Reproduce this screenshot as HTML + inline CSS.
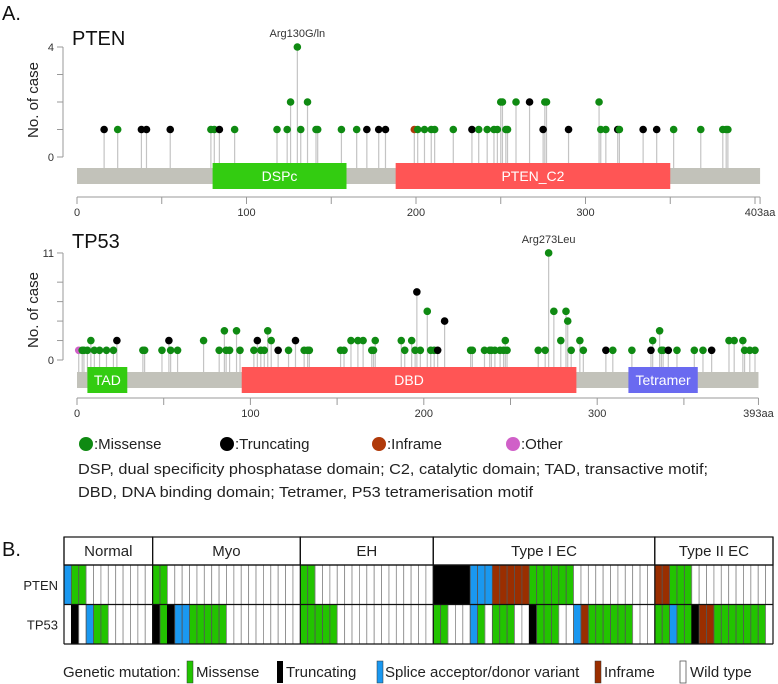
<!DOCTYPE html>
<html><head><meta charset="utf-8">
<style>
html,body{margin:0;padding:0;background:#fff;}
svg{display:block;font-family:"Liberation Sans",Arial,sans-serif;}
</style></head>
<body>
<svg id="fig" width="778" height="684" viewBox="0 0 778 684" xmlns="http://www.w3.org/2000/svg">
  <text x="2" y="20" font-size="20" fill="#111">A.</text>
  <text x="72" y="45" font-size="20" fill="#111">PTEN</text>
  <text x="72" y="248" font-size="20" fill="#111">TP53</text>
  <text transform="translate(38,100) rotate(-90)" text-anchor="middle" font-size="15" fill="#222">No. of case</text>
  <text transform="translate(38,310) rotate(-90)" text-anchor="middle" font-size="15" fill="#222">No. of case</text>
  <g id="pten"></g>
  <g id="tp53"></g>

  <g>
    <circle cx="86" cy="444" r="7" fill="#0f8a12"/>
    <text x="94" y="449" font-size="15" fill="#222">:Missense</text>
    <circle cx="227" cy="444" r="7" fill="#000"/>
    <text x="235" y="449" font-size="15" fill="#222">:Truncating</text>
    <circle cx="379" cy="444" r="7" fill="#b03a0a"/>
    <text x="387" y="449" font-size="15" fill="#222">:Inframe</text>
    <circle cx="513" cy="444" r="7" fill="#d060c8"/>
    <text x="521" y="449" font-size="15" fill="#222">:Other</text>
  </g>
  <text x="78" y="474" font-size="15" fill="#222" textLength="630" lengthAdjust="spacingAndGlyphs">DSP, dual specificity phosphatase domain; C2, catalytic domain; TAD, transactive motif;</text>
  <text x="78" y="497" font-size="15" fill="#222" textLength="455" lengthAdjust="spacingAndGlyphs">DBD, DNA binding domain; Tetramer, P53 tetramerisation motif</text>

  <text x="2" y="556" font-size="20" fill="#111">B.</text>
  <g id="heat"></g>

  <g>
    <text x="63" y="677" font-size="15" fill="#222">Genetic mutation:</text>
    <rect x="187" y="661" width="6" height="22" fill="#22c400" stroke="#333" stroke-width="0.5"/>
    <text x="196" y="677" font-size="15" fill="#222">Missense</text>
    <rect x="277" y="661" width="6" height="22" fill="#000"/>
    <text x="286" y="677" font-size="15" fill="#222">Truncating</text>
    <rect x="377" y="661" width="6" height="22" fill="#1a98f0" stroke="#333" stroke-width="0.5"/>
    <text x="385" y="677" font-size="15" fill="#222">Splice acceptor/donor variant</text>
    <rect x="595" y="661" width="6" height="22" fill="#9a2e00" stroke="#333" stroke-width="0.5"/>
    <text x="604" y="677" font-size="15" fill="#222">Inframe</text>
    <rect x="680" y="661" width="6" height="22" fill="#fff" stroke="#555" stroke-width="0.8"/>
    <text x="690" y="677" font-size="15" fill="#222">Wild type</text>
  </g>
</svg>
<script>
// ---------- PTEN data ----------
const ptenPos = [16,24,38,41,55,79,81,84,93,118,124,126,130,132,136,141,142,156,165,171,178,182,199,201,205,209,211,222,233,237,242,246,248,250,251,253,254,259,267,275,276,277,290,308,309,312,319,320,334,342,352,368,381,383,384];
const ptenCount = [1,1,1,1,1,1,1,1,1,1,1,2,4,1,2,1,1,1,1,1,1,1,1,1,1,1,1,1,1,1,1,1,1,2,2,1,1,2,2,1,2,2,1,2,1,1,1,1,1,1,1,1,1,1,1];
const ptenType = ["k","g","k","k","k","g","g","k","g","g","g","g","g","g","g","g","g","g","g","k","k","k","r","g","g","g","g","g","k","g","g","g","g","g","g","g","g","g","k","k","g","g","k","g","g","g","k","g","k","k","g","g","g","g","g"];
const ptenDomains = ["DSPc","PTEN_C2"];
const ptenDomStart = [80,188];
const ptenDomEnd = [159,350];
const ptenTicks = [0,100,200,300];
const ptenLen = 403;
const ptenYTicks = [0,1,2,3,4];
const ptenYLabels = ["0","","","","4"];

// ---------- TP53 data ----------
const tp53Pos = [1,3,4,6,8,10,13,17,21,23,38,39,49,53,54,58,73,82,85,86,88,92,94,102,104,106,108,110,112,116,122,126,131,133,134,152,154,158,162,165,170,171,172,187,189,193,195,196,198,202,204,206,208,212,227,228,235,238,239,241,244,246,247,248,266,270,272,275,279,282,283,285,290,292,305,309,320,331,332,336,337,338,341,346,356,361,366,376,379,384,385,388,391];
const tp53Count = [1,1,1,1,2,1,1,1,1,2,1,1,1,2,1,1,2,1,3,1,1,3,1,1,2,1,1,3,2,1,1,2,1,1,1,1,1,2,2,2,1,1,2,2,1,2,1,7,1,5,1,1,1,4,1,1,1,1,1,1,1,1,2,1,1,1,11,5,2,5,4,1,2,1,1,1,1,1,2,3,1,1,1,1,1,1,1,2,2,2,1,1,1];
const tp53Type = ["o","g","g","g","g","g","g","g","g","k","g","g","g","k","g","g","g","g","g","g","g","g","g","g","k","g","g","g","g","k","g","k","g","g","g","g","g","g","g","g","g","g","g","g","g","g","g","k","g","g","g","g","k","k","g","g","g","g","g","g","g","g","g","g","g","g","g","g","g","g","g","g","g","g","k","g","g","k","g","g","g","g","k","g","g","g","k","g","g","g","g","g","g"];
const tp53Domains = ["TAD","DBD","Tetramer"];
const tp53DomStart = [6,95,318];
const tp53DomEnd = [29,288,358];
const tp53Ticks = [0,100,200,300];
const tp53Len = 393;
const tp53YTicks = [0,2,4,6,8,11];
const tp53YLabels = ["0","","","","","11"];

// ---------- heatmap data ----------
const groups = ["Normal","Myo","EH","Type I EC","Type II EC"];
const groupSizes = [12,20,18,30,16];
const rowNames = ["PTEN","TP53"];
const ptenRow = "bggwwwwwwwww"+"ggwwwwwwwwwwwwwwwwww"+"ggwwwwwwwwwwwwwwww"+"kkkkkbbbrrrrrggggggwwwwwwwwwww"+"rrgggwwwwwwwwwww";
const tp53Row = "wkwbggwwwwww"+"kgkbbgggggwwwwwwwwww"+"gggggwwwwwwwwwwwww"+"ggwwwbgwgggwwkgggwwbrggggggwww"+"ggbggkrrgggggggw";

const NS = "http://www.w3.org/2000/svg";
const dotColor = {g:"#0f8a12",k:"#000000",r:"#b03a0a",o:"#d060c8"};
const domColor = {DSPc:"#33cc11",PTEN_C2:"#ff5555",TAD:"#33cc11",DBD:"#ff5555",Tetramer:"#6a6af0"};
const cellColor = {g:"#22c400",k:"#000000",b:"#1a98f0",r:"#9a2e00",w:"#ffffff"};
const cellStroke = {g:"#555",k:"#000",b:"#555",r:"#555",w:"#888"};

function mk(tag, attrs, parent){
  const e = document.createElementNS(NS, tag);
  for (const k in attrs) e.setAttribute(k, attrs[k]);
  parent.appendChild(e);
  return e;
}

function drawLollipop(g, cfg){
  const xs = aa => 77 + aa * cfg.pxPerAa;
  const ys = c => cfg.y0 - c * cfg.pxPerCase;
  const yl = mk("line",{x1:63,x2:63,y1:ys(cfg.yTicks[cfg.yTicks.length-1]),y2:ys(0),stroke:"#999","stroke-width":1},g);
  
  
  cfg.yTicks.forEach((t,i)=>{
    const tk = mk("line",{x1:57,x2:63,y1:ys(t),y2:ys(t),stroke:"#999","stroke-width":1},g);
    
    
    if (cfg.yLabels[i]) {
      const tl = mk("text",{x:54,y:ys(t)+4,"font-size":11,"text-anchor":"end",fill:"#333"},g);
      tl.textContent = cfg.yLabels[i];
      
      
    }
  });
  cfg.pos.forEach((p,i)=>{
    const st = mk("line",{x1:xs(p),x2:xs(p),y1:ys(cfg.count[i]),y2:cfg.barTop,stroke:"#c4c4c4","stroke-width":1.2},g);
    
    
  });
  const bar = mk("rect",{x:77,y:cfg.barTop,width:xs(cfg.len)-77,height:16,fill:"#c2c2ba"},g);
  
  
  cfg.domains.forEach((d,i)=>{
    const x1 = xs(cfg.domStart[i]), x2 = xs(cfg.domEnd[i]);
    const r = mk("rect",{x:x1,y:cfg.barTop-5,width:x2-x1,height:26,fill:domColor[d]},g);
    
    
    const t = mk("text",{x:(x1+x2)/2,y:cfg.barTop+13,"font-size":14,"text-anchor":"middle",fill:"#fff"},g);
    t.textContent = d;
    
    
  });
  cfg.pos.forEach((p,i)=>{
    const c = mk("circle",{cx:xs(p),cy:ys(cfg.count[i]),r:3.8,fill:dotColor[cfg.type[i]]},g);
    
    
  });
  let mi = 0;
  cfg.count.forEach((c,i)=>{ if (c > cfg.count[mi]) mi = i; });
  const hl = mk("text",{x:xs(cfg.pos[mi]),y:ys(cfg.count[mi])-10,"font-size":11,"text-anchor":"middle",fill:"#333"},g);
  hl.textContent = cfg.hotLabel;
  
  
  const xa = mk("line",{x1:77,x2:xs(cfg.len),y1:cfg.axisY,y2:cfg.axisY,stroke:"#999","stroke-width":1},g);
  
  
  for (let a = 0; a <= cfg.len; a += 50) {
    const tk = mk("line",{x1:xs(a),x2:xs(a),y1:cfg.axisY,y2:cfg.axisY+7,stroke:"#999","stroke-width":1},g);
    
    
  }
  const tkE = mk("line",{x1:xs(cfg.len),x2:xs(cfg.len),y1:cfg.axisY,y2:cfg.axisY+7,stroke:"#999","stroke-width":1},g);
  
  
  cfg.ticks.forEach(t=>{
    const tl = mk("text",{x:xs(t),y:cfg.axisY+19,"font-size":11,"text-anchor":"middle",fill:"#333"},g);
    tl.textContent = String(t);
    
    
  });
  const el = mk("text",{x:xs(cfg.len),y:cfg.axisY+19,"font-size":11,"text-anchor":"middle",fill:"#333"},g);
  el.textContent = cfg.len + "aa";
  
  
}

drawLollipop(document.getElementById("pten"), {
  name:"pten", pos:ptenPos, count:ptenCount, type:ptenType, domains:ptenDomains,
  domStart:ptenDomStart, domEnd:ptenDomEnd, ticks:ptenTicks, len:ptenLen,
  yTicks:ptenYTicks, yLabels:ptenYLabels, pxPerAa:1.695, y0:157, pxPerCase:27.5,
  barTop:168, axisY:197, hotLabel:"Arg130G/ln"
});
drawLollipop(document.getElementById("tp53"), {
  name:"tp53", pos:tp53Pos, count:tp53Count, type:tp53Type, domains:tp53Domains,
  domStart:tp53DomStart, domEnd:tp53DomEnd, ticks:tp53Ticks, len:tp53Len,
  yTicks:tp53YTicks, yLabels:tp53YLabels, pxPerAa:1.734, y0:360, pxPerCase:9.73,
  barTop:372, axisY:398, hotLabel:"Arg273Leu"
});

(function(){
  const h = document.getElementById("heat");
  const x0 = 64, cw = 709/96, hy = 537, hh = 28, r1 = 565, rh = 39.5;
  const rows = [ptenRow, tp53Row];
  rows.forEach((row,ri)=>{
    for (let i = 0; i < row.length; i++) {
      const c = mk("rect",{x:x0+i*cw,y:r1+ri*rh,width:cw,height:rh,fill:cellColor[row[i]],stroke:cellStroke[row[i]],"stroke-width":0.8},h);
      
      
    }
    const rl = mk("text",{x:58,y:r1+ri*rh+rh/2+5,"font-size":13,"text-anchor":"end",fill:"#222"},h);
    rl.textContent = rowNames[ri];
    
    
  });
  let start = 0;
  groups.forEach((gname,gi)=>{
    const gx = x0 + start*cw, gw = groupSizes[gi]*cw;
    const b = mk("rect",{x:gx,y:hy,width:gw,height:hh,fill:"#fff",stroke:"#111","stroke-width":1.2},h);
    
    
    const t = mk("text",{x:gx+gw/2,y:hy+19,"font-size":15,"text-anchor":"middle",fill:"#222"},h);
    t.textContent = gname;
    
    
    const v = mk("line",{x1:gx,x2:gx,y1:hy,y2:r1+2*rh,stroke:"#111","stroke-width":1.2},h);
    
    
    start += groupSizes[gi];
  });
  const endX = x0 + start*cw;
  const ve = mk("line",{x1:endX,x2:endX,y1:hy,y2:r1+2*rh,stroke:"#111","stroke-width":1.2},h);
  
  
  [r1, r1+rh, r1+2*rh].forEach(y=>{
    const l = mk("line",{x1:x0,x2:endX,y1:y,y2:y,stroke:"#111","stroke-width":1.2},h);
    
    
  });
})();
</script>
</body></html>
